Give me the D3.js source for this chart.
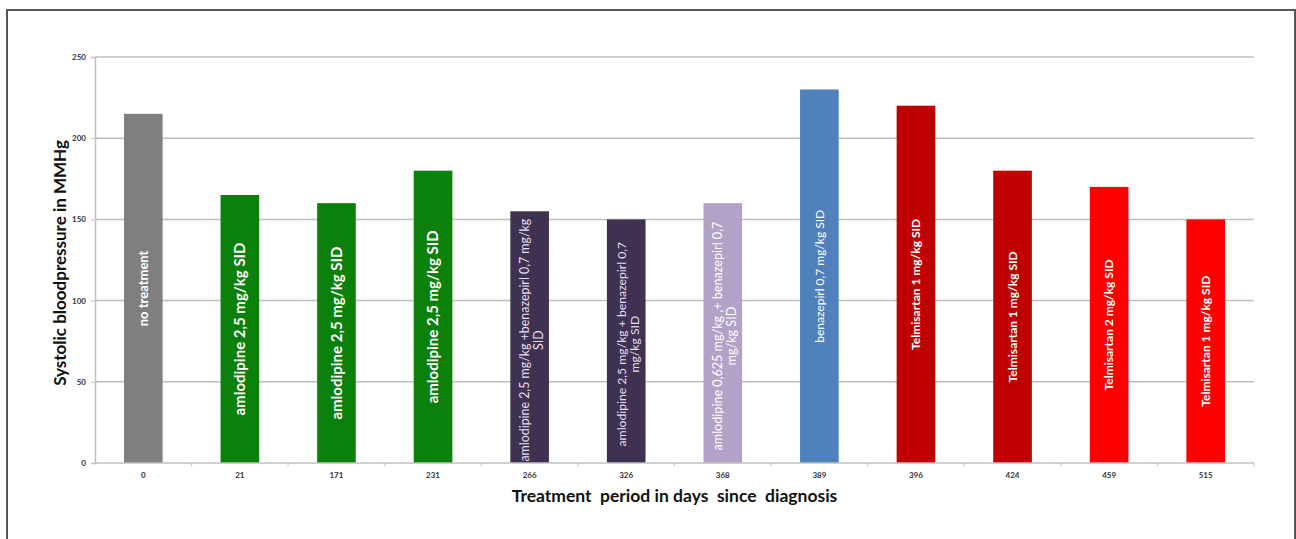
<!DOCTYPE html>
<html><head><meta charset="utf-8">
<script src="https://cdn.jsdelivr.net/npm/d3@7"></script>
<style>
html,body{margin:0;padding:0;background:#fff;}
svg{display:block;font-family:Lato,"Open Sans",sans-serif;}
</style></head>
<body>
<svg id="chart" width="1296" height="539"></svg>
<script>
const days = ["0","21","171","231","266","326","368","389","396","424","459","515"];
const pressure = [215,165,160,180,155,150,160,230,220,180,170,150];
const barColors = ["#7f7f7f","#0b800b","#0b800b","#0b800b","#3f3151","#3f3151","#b3a2c7","#4f81bd","#c00000","#c00000","#ff0000","#ff0000"];
const labels = [
  ["no treatment"],
  ["amlodipine 2,5 mg/kg SID"],
  ["amlodipine 2,5 mg/kg SID"],
  ["amlodipine 2,5 mg/kg SID"],
  ["amlodipine 2,5 mg/kg +benazepirl 0,7 mg/kg","SID"],
  ["amlodipine 2,5 mg/kg + benazepirl 0,7","mg/kg SID"],
  ["amlodipine 0,625 mg/kg ,+ benazepirl 0,7","mg/kg SID"],
  ["benazepirl 0,7 mg/kg SID"],
  ["Telmisartan 1 mg/kg SID"],
  ["Telmisartan 1 mg/kg SID"],
  ["Telmisartan 2 mg/kg SID"],
  ["Telmisartan 1 mg/kg SID"]
];
const labelStyle = [
  {size:13,weight:"bold",fill:"#fff"},
  {size:15,weight:"bold",fill:"#fff"},
  {size:15,weight:"bold",fill:"#fff"},
  {size:15,weight:"bold",fill:"#fff"},
  {size:12.4,weight:"normal",fill:"#e6dff0"},
  {size:12.2,weight:"normal",fill:"#e6dff0"},
  {size:12.6,weight:"normal",fill:"#fff"},
  {size:12,weight:"normal",fill:"#fff"},
  {size:12,weight:"bold",fill:"#fff"},
  {size:12,weight:"bold",fill:"#fff"},
  {size:12,weight:"bold",fill:"#fff"},
  {size:12,weight:"bold",fill:"#fff"}
];
const yTicks = [0,50,100,150,200,250];

const svg = d3.select("#chart");
svg.append("rect").attr("x",7).attr("y",10).attr("width",1288).attr("height",540)
  .attr("fill","none").attr("stroke","#555").attr("stroke-width",2);

const pLeft=95, pRight=1254, pTop=57, pBottom=463;
const x = d3.scaleBand().domain(days).range([pLeft,pRight]).paddingInner(0.6).paddingOuter(0.3);
const xb = d3.scaleBand().domain(days).range([pLeft,pRight]);
const y = d3.scaleLinear().domain([0,250]).range([pBottom,pTop]);

svg.append("g").selectAll("line").data(yTicks.filter(d=>d>0)).join("line")
  .attr("x1",pLeft).attr("x2",pRight).attr("y1",d=>y(d)).attr("y2",d=>y(d))
  .attr("stroke","#bfbfbf").attr("stroke-width",1.5);

const yAxis = svg.append("g").attr("transform",`translate(${pLeft},0)`)
  .call(d3.axisLeft(y).tickValues(yTicks).tickSize(4).tickPadding(5));
yAxis.select(".domain").attr("stroke","#c0c0c0").attr("stroke-width",1.5);
yAxis.selectAll(".tick line").attr("stroke","#c0c0c0");
yAxis.selectAll("text").attr("font-size",8).attr("font-weight","bold").attr("fill","#333")
  .attr("font-family","Lato,sans-serif");

svg.append("g").selectAll("rect").data(pressure).join("rect")
  .attr("x",(d,i)=>x(days[i])).attr("width",x.bandwidth())
  .attr("y",d=>y(d)).attr("height",d=>pBottom-y(d))
  .attr("fill",(d,i)=>barColors[i]);

const xAxisG = svg.append("g").attr("transform",`translate(0,${pBottom})`);
xAxisG.append("line").attr("x1",pLeft).attr("x2",pRight).attr("stroke","#c0c0c0").attr("stroke-width",1.5);
xAxisG.selectAll("line.tk").data(days).join("line").attr("class","tk")
  .attr("x1",(d,i)=>pLeft+xb.step()*(i+1)).attr("x2",(d,i)=>pLeft+xb.step()*(i+1))
  .attr("y1",0).attr("y2",3).attr("stroke","#c0c0c0");
xAxisG.selectAll("text").data(days).join("text")
  .attr("x",d=>xb(d)+xb.bandwidth()/2).attr("y",15)
  .attr("text-anchor","middle").attr("font-size",8).attr("font-weight","bold").attr("fill","#333")
  .text(d=>d);

const lg = svg.append("g");
pressure.forEach((v,i)=>{
  const cx = x(days[i]) + x.bandwidth()/2;
  const cy = (y(v)+pBottom)/2 + (labels[i].length>1?3:0);
  const st = labelStyle[i];
  const lines = labels[i];
  const lh = 13.5;
  const g = lg.append("g").attr("transform",`translate(${cx+(lines.length>1?2:0)},${cy}) rotate(-90)`);
  lines.forEach((t,j)=>{
    g.append("text").attr("x",0).attr("y",(j-(lines.length-1)/2)*lh)
      .attr("dy","0.35em").attr("text-anchor","middle")
      .attr("font-size",st.size).attr("font-weight",st.weight).attr("fill",st.fill)
      .text(t);
  });
});

svg.append("text").attr("transform",`translate(66,263) rotate(-90)`)
  .attr("text-anchor","middle").attr("font-size",17).attr("font-weight","bold").attr("fill","#111")
  .text("Systolic bloodpressure in MMHg");
svg.append("text").attr("x",(pLeft+pRight)/2).attr("y",502)
  .attr("text-anchor","middle").attr("font-size",17.5).attr("font-weight","bold").attr("fill","#111")
  .style("white-space","pre")
  .text("Treatment  period in days  since  diagnosis");
</script>
</body></html>
